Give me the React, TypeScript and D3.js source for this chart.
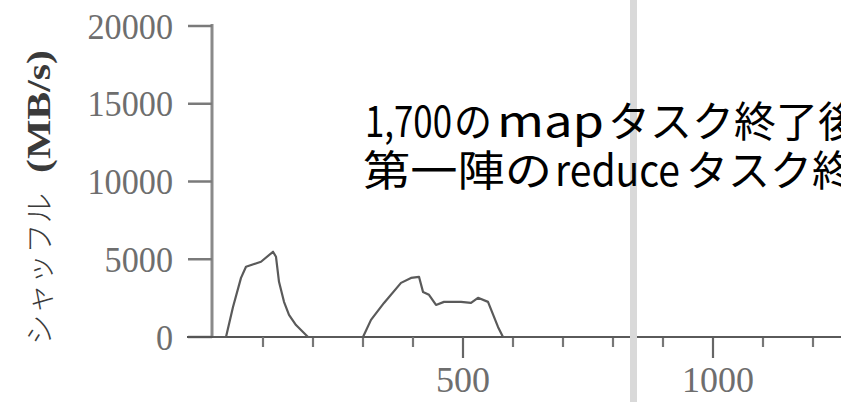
import React from "react";
import * as d3 from "d3";

// Shuffle throughput (MB/s) over time (s)
const timeSec: number[] = [0, 26, 40, 56, 66, 96, 120, 126, 132, 142, 152, 166, 186, 190, 300, 316, 342, 376, 396, 412, 420, 432, 446, 462, 496, 516, 530, 550, 570, 580, 1260];
const shuffleMBs: number[] = [0, 0, 1930, 3800, 4520, 4840, 5480, 5160, 3550, 2260, 1420, 770, 130, 0, 0, 1100, 2190, 3480, 3800, 3870, 2900, 2710, 2060, 2260, 2260, 2190, 2520, 2260, 650, 0, 0];

const yTicks: number[] = [0, 5000, 10000, 15000, 20000];
const xMinorTicks: number[] = [100, 200, 300, 400, 600, 700, 800, 900, 1100, 1200];
const xMajorTicks: number[] = [500, 1000];
const markerTime: number[] = [842];

const yTitleJa = "シャッフル";
const yTitleUnit = "(MB/s)";
const line1: string[] = ["1,700", "の", "map", "タスク終了後"];
const line2: string[] = ["第一陣の", "reduce", "タスク終"];

const W = 841;
const H = 402;

export default function App() {
  const x = d3.scaleLinear().domain([0, 1000]).range([213, 713]);
  const y = d3.scaleLinear().domain([0, 20000]).range([337, 26]);
  const pts: [number, number][] = timeSec.map((t, i) => [t, shuffleMBs[i]]);
  const lineGen = d3
    .line<[number, number]>()
    .x((d) => x(d[0]))
    .y((d) => y(d[1]));

  const cjk = "'Noto Sans CJK JP', sans-serif";
  const serif = "'Liberation Serif', 'DejaVu Serif', serif";

  // text segment layout (x start, width)
  const l1Pos: [number, number][] = [
    [365, 87],
    [454, 38],
    [497, 107],
    [608, 252],
  ];
  const l2Pos: [number, number][] = [
    [363, 189],
    [555, 125],
    [686, 168],
  ];

  return (
    <div style={{ position: "absolute", left: 0, top: 0, width: W, height: H }}>
      <svg width={W} height={H} style={{ display: "block", background: "#fff" }}>
        <rect x={0} y={0} width={W} height={H} fill="#fff" />
        {/* Y axis */}
        <line x1={212} x2={212} y1={y(20000) - 2} y2={y(0)} stroke="#8a8a8a" strokeWidth={3} />
        {yTicks.map((v) => (
          <g key={"yt" + v}>
            <line x1={188} x2={212} y1={y(v)} y2={y(v)} stroke="#7a7a7a" strokeWidth={2.5} />
            <text
              x={173}
              y={y(v)}
              dy="0.35em"
              textAnchor="end"
              fontFamily={serif}
              fontSize={36}
              fill="#6e6e6e"
              transform={`translate(173 ${y(v)}) scale(0.95 1) translate(-173 ${-y(v)})`}
            >
              {v}
            </text>
          </g>
        ))}
        {/* X axis */}
        <line x1={187} x2={W} y1={y(0)} y2={y(0)} stroke="#555" strokeWidth={2.2} />
        {xMinorTicks.map((v) => (
          <line key={"xm" + v} x1={x(v)} x2={x(v)} y1={y(0)} y2={y(0) + 10} stroke="#777" strokeWidth={2.2} />
        ))}
        {xMajorTicks.map((v) => (
          <g key={"xM" + v}>
            <line x1={x(v)} x2={x(v)} y1={y(0)} y2={y(0) + 21} stroke="#666" strokeWidth={2.2} />
            <text
              x={x(v) + (v >= 1000 ? 5 : 0)}
              y={y(0) + 55}
              textAnchor="middle"
              fontFamily={serif}
              fontSize={36}
              fill="#6e6e6e"
            >
              {v}
            </text>
          </g>
        ))}
        {/* data line */}
        <path d={lineGen(pts) || ""} fill="none" stroke="#5a5a5a" strokeWidth={2.2} strokeLinejoin="round" />
        {/* vertical marker band */}
        {markerTime.map((t) => (
          <rect key={"m" + t} x={x(t) - 4} y={0} width={7} height={H} fill="#d9d9d9" />
        ))}
        {/* Y axis title */}
        <g transform="translate(50 345) rotate(-90)">
          <text x={0} y={0} fontFamily={cjk} fontWeight={300} fontSize={30} fill="#3a3a3a">
            <tspan x={0} textLength={152} lengthAdjust="spacingAndGlyphs">{yTitleJa}</tspan>
            <tspan x={172} fontFamily={serif} fontWeight="bold" fontSize={34} textLength={123} lengthAdjust="spacingAndGlyphs">
              {yTitleUnit}
            </tspan>
          </text>
        </g>
        {/* annotation */}
        <text y={137} fontFamily={cjk} fontSize={42} fill="#000">
          {line1.map((s, i) => (
            <tspan key={"a" + i} x={l1Pos[i][0]} textLength={l1Pos[i][1]} lengthAdjust="spacingAndGlyphs">
              {s}
            </tspan>
          ))}
        </text>
        <text y={186} fontFamily={cjk} fontSize={42} fill="#000">
          {line2.map((s, i) => (
            <tspan key={"b" + i} x={l2Pos[i][0]} textLength={l2Pos[i][1]} lengthAdjust="spacingAndGlyphs">
              {s}
            </tspan>
          ))}
        </text>
      </svg>
    </div>
  );
}
